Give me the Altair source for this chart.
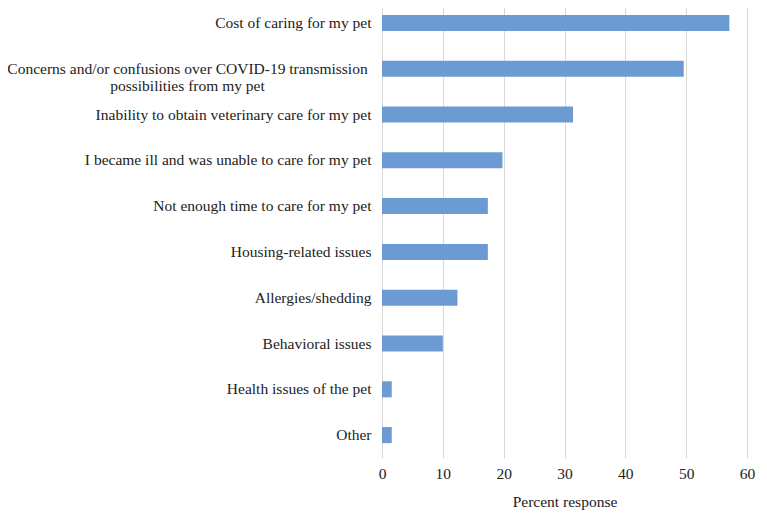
import altair as alt
import pandas as pd

categories = [
    "Cost of caring for my pet",
    "Concerns and/or confusions over COVID-19 transmission|possibilities from my pet",
    "Inability to obtain veterinary care for my pet",
    "I became ill and was unable to care for my pet",
    "Not enough time to care for my pet",
    "Housing-related issues",
    "Allergies/shedding",
    "Behavioral issues",
    "Health issues of the pet",
    "Other",
]
values = [57.1, 49.6, 31.4, 19.8, 17.4, 17.4, 12.4, 10.0, 1.6, 1.6]

df = pd.DataFrame({"reason": categories, "pct": values})

FONT = "Liberation Serif"
concern = categories[1]

chart = alt.Chart(df).mark_bar(color="#6b9bd2").encode(
    x=alt.X(
        "pct:Q",
        scale=alt.Scale(domain=[0, 60], nice=False),
        axis=alt.Axis(
            title="Percent response",
            values=[0, 10, 20, 30, 40, 50, 60],
            grid=True,
            gridColor="#d9d9d9",
            gridWidth=1,
            domain=False,
            ticks=False,
            labelFlush=False,
            labelPadding=8,
            labelFontSize=15.5,
            labelFont=FONT,
            labelColor="#222222",
            titleFont=FONT,
            titleFontSize=15.5,
            titleFontWeight="normal",
            titleColor="#222222",
            titlePadding=13,
        ),
    ),
    y=alt.Y(
        "reason:N",
        sort=categories,
        scale=alt.Scale(paddingInner=0.65, paddingOuter=0.325),
        axis=alt.Axis(
            title=None,
            domain=False,
            ticks=False,
            labelExpr="split(datum.label, '|')",
            labelAlign={"condition": {"test": f"datum.value == '{concern}'", "value": "center"}, "value": "right"},
            labelPadding={"condition": {"test": f"datum.value == '{concern}'", "value": 195}, "value": 11},
            labelLimit=500,
            labelFontSize=15.5,
            labelFont=FONT,
            labelColor="#222222",
            labelLineHeight=17,
        ),
    ),
).properties(
    width=365,
    height=458,
    autosize=alt.AutoSizeParams(type="none"),
    padding={"left": 374, "top": -8, "right": 10, "bottom": 53},
).configure_view(stroke=None)

chart.save("out.html", embed_options={"renderer": "svg", "actions": False})
